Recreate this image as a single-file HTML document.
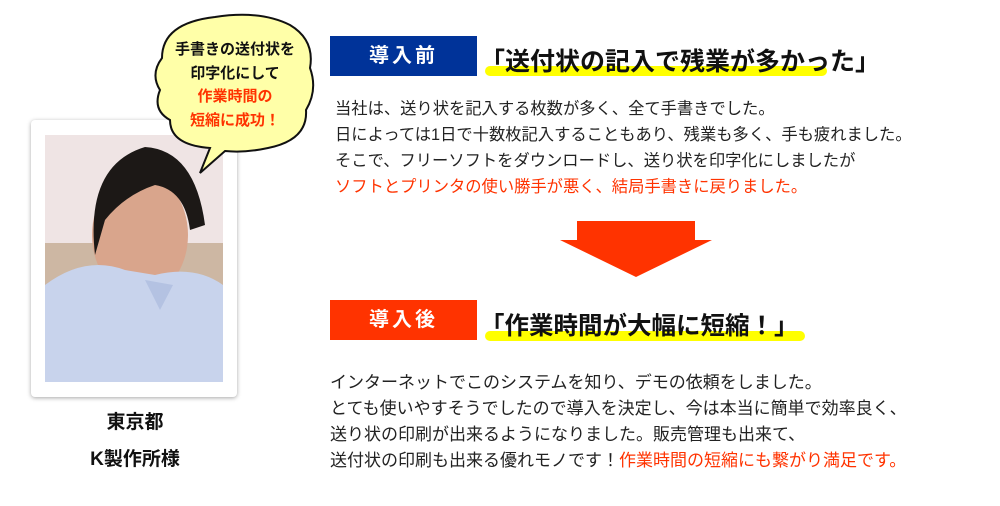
<!DOCTYPE html>
<html><head><meta charset="utf-8"><style>
body{margin:0;width:1000px;height:506px;background:#fff;position:relative;overflow:hidden;font-family:"Liberation Sans","Noto Sans CJK JP",sans-serif;}
.a{position:absolute;white-space:nowrap;}
.body{line-height:26px;color:#222;}
.r{color:#ff3300;}
.tag{position:absolute;width:147px;height:40px;color:#fff;font-weight:bold;font-size:20px;text-align:center;line-height:40px;letter-spacing:3px;}
.ttl{position:absolute;font-weight:bold;color:#111;}
.ul{position:absolute;height:10px;background:#ffff00;border-radius:5px;}
</style></head><body>
<div class="a" style="left:31px;top:120px;width:206px;height:277px;background:#fff;border-radius:4px;box-shadow:0 1px 4px rgba(0,0,0,.35);"></div>
<svg class="a" style="left:45px;top:135px" width="178" height="247" viewBox="0 0 178 247">
<rect width="178" height="247" fill="#efe4e4"/>
<rect y="108" width="178" height="60" fill="#cdb7a3"/>
<ellipse cx="95" cy="100" rx="48" ry="62" fill="#d9a58c"/>
<path d="M50 120 Q40 30 100 12 Q150 15 160 90 L145 95 Q140 55 110 50 Q80 60 60 85 Z" fill="#1c1816"/>
<path d="M0 150 Q40 120 80 135 L110 140 Q150 130 178 150 L178 247 L0 247 Z" fill="#c8d3ec"/>
<path d="M100 145 L115 175 L128 150" fill="#b4c2e2"/>
</svg>
<svg class="a" style="left:150px;top:8px" width="170" height="180" viewBox="0 0 170 180">
<path d="M12 50 Q12 15 65 9 Q110 2 140 17 Q165 32 160 60 Q168 82 156 102 Q158 132 118 140 Q95 145 75 143 L50 165 L60 140 Q20 137 20 112 Q2 102 10 82 Q0 66 12 50 Z" fill="#ffffa8" stroke="#111" stroke-width="2"/>
</svg>
<div class="a" style="left:155px;top:38px;width:160px;text-align:center;font-size:15px;font-weight:bold;line-height:23.5px;color:#111;">手書きの送付状を<br>印字化にして<br><span class="r">作業時間の<br>短縮に成功！</span></div>
<div class="a" style="left:35px;top:404px;width:200px;text-align:center;font-size:19px;font-weight:bold;line-height:37px;color:#111;">東京都<br>K製作所様</div>

<div class="tag" style="left:330px;top:36px;background:#003399;">導入前</div>
<div class="ul" style="left:485px;top:66px;width:342px;"></div>
<div class="ttl" style="left:480px;top:42px;font-size:25px;">「送付状の記入で残業が多かった」</div>
<div class="a body" style="left:335px;top:96px;font-size:16.3px;">当社は、送り状を記入する枚数が多く、全て手書きでした。<br>日によっては1日で十数枚記入することもあり、残業も多く、手も疲れました。<br>そこで、フリーソフトをダウンロードし、送り状を印字化にしましたが<br><span class="r">ソフトとプリンタの使い勝手が悪く、結局手書きに戻りました。</span></div>

<svg class="a" style="left:0;top:0" width="1000" height="506"><path d="M577 221 H695 V240 H712 L636 277 L560 240 H577 Z" fill="#ff3300"/></svg>

<div class="tag" style="left:330px;top:300px;background:#ff3300;">導入後</div>
<div class="ul" style="left:485px;top:331px;width:320px;"></div>
<div class="ttl" style="left:480px;top:307px;font-size:24.5px;">「作業時間が大幅に短縮！」</div>
<div class="a body" style="left:330px;top:370px;font-size:17px;">インターネットでこのシステムを知り、デモの依頼をしました。<br>とても使いやすそうでしたので導入を決定し、今は本当に簡単で効率良く、<br>送り状の印刷が出来るようになりました。販売管理も出来て、<br>送付状の印刷も出来る優れモノです！<span class="r">作業時間の短縮にも繋がり満足です。</span></div>
</body></html>
